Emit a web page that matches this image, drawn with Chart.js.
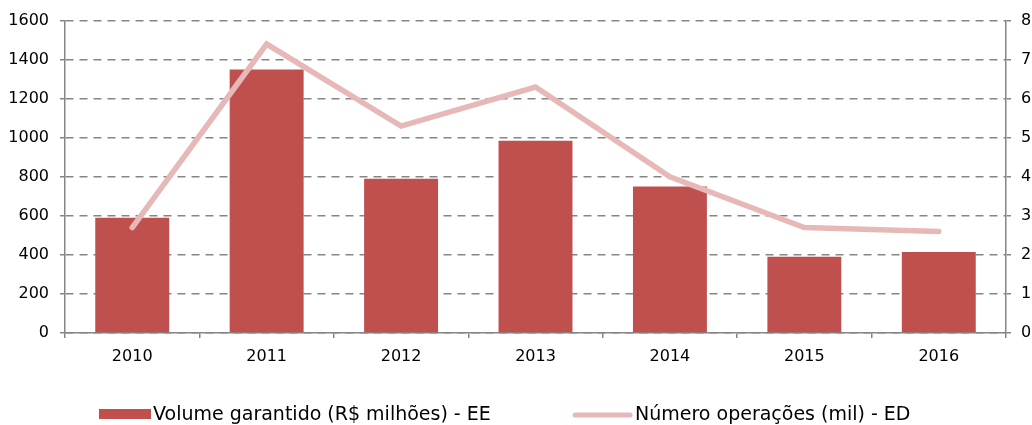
<!DOCTYPE html>
<html>
<head>
<meta charset="utf-8">
<script src="https://cdn.jsdelivr.net/npm/chart.js@4.4.1/dist/chart.umd.min.js"></script>
<style>
  html, body { margin: 0; padding: 0; background: #ffffff; }
  #wrap { width: 1032px; height: 425px; position: relative; }
</style>
</head>
<body>
<div id="wrap"><canvas id="c"></canvas></div>
<script>
const categories = ['2010', '2011', '2012', '2013', '2014', '2015', '2016'];
const volumeValues = [590, 1350, 790, 985, 750, 390, 415];
const operationsValues = [2.7, 7.4, 5.3, 6.3, 4.0, 2.7, 2.6];
const volumeLabel = 'Volume garantido (R$ milhões) - EE';
const operationsLabel = 'Número operações (mil) - ED';
const leftTicks = [0, 200, 400, 600, 800, 1000, 1200, 1400, 1600];
const rightTicks = [0, 1, 2, 3, 4, 5, 6, 7, 8];

const FONT = "'DejaVu Sans', sans-serif";
const AXIS = '#868686';
Chart.defaults.font.family = FONT;
Chart.defaults.color = '#000000';

const customLegend = {
  id: 'customLegend',
  afterDraw(chart) {
    const ctx = chart.ctx;
    const ds = chart.data.datasets;
    const barDs = ds.find(d => d.type === 'bar');
    const lineDs = ds.find(d => d.type === 'line');
    const y = 415;
    ctx.save();
    ctx.font = '19px ' + FONT;
    ctx.textBaseline = 'middle';
    ctx.textAlign = 'left';
    // bar item
    ctx.fillStyle = barDs.backgroundColor;
    ctx.fillRect(99, 409, 52, 10);
    ctx.fillStyle = '#000000';
    ctx.fillText(barDs.label, 153, y);
    // line item
    ctx.strokeStyle = lineDs.borderColor;
    ctx.lineWidth = 5;
    ctx.lineCap = 'round';
    ctx.beginPath();
    ctx.moveTo(575, y);
    ctx.lineTo(630, y);
    ctx.stroke();
    ctx.fillStyle = '#000000';
    ctx.fillText(lineDs.label, 635, y);
    ctx.restore();
  }
};

const plainTick = function (value) { return String(value); };

new Chart(document.getElementById('c'), {
  data: {
    labels: categories,
    datasets: [
      {
        type: 'line',
        label: operationsLabel,
        data: operationsValues,
        yAxisID: 'yRight',
        borderColor: '#e6b9b8',
        backgroundColor: '#e6b9b8',
        borderWidth: 5.5,
        borderCapStyle: 'round',
        borderJoinStyle: 'miter',
        pointRadius: 0,
        pointHoverRadius: 0,
        tension: 0,
        order: 0
      },
      {
        type: 'bar',
        label: volumeLabel,
        data: volumeValues,
        yAxisID: 'yLeft',
        backgroundColor: '#c0504d',
        borderWidth: 0,
        barPercentage: 0.55,
        categoryPercentage: 1.0,
        order: 1
      }
    ]
  },
  options: {
    responsive: true,
    maintainAspectRatio: false,
    animation: false,
    events: [],
    layout: { padding: { top: 19, left: 0, right: 0, bottom: 0 } },
    plugins: {
      legend: { display: false },
      tooltip: { enabled: false }
    },
    scales: {
      x: {
        type: 'category',
        offset: true,
        grid: {
          offset: true,
          drawOnChartArea: false,
          drawTicks: true,
          tickLength: 5,
          color: AXIS,
          lineWidth: 1.5
        },
        border: { display: true, color: AXIS, width: 1.5 },
        ticks: { padding: 9, font: { size: 16 }, color: '#000000', maxRotation: 0 },
        afterFit(scale) { scale.height = 92; }
      },
      yLeft: {
        type: 'linear',
        position: 'left',
        min: 0,
        max: 1600,
        afterBuildTicks(scale) { scale.ticks = leftTicks.map(v => ({ value: v })); },
        grid: {
          drawOnChartArea: true,
          drawTicks: true,
          tickLength: 5,
          color: AXIS,
          lineWidth: 1.5,
          tickBorderDash: [],
          tickColor: AXIS,
          tickWidth: 1.5
        },
        border: { display: true, color: AXIS, width: 1.5, dash: [8, 6] },
        ticks: { padding: 11, font: { size: 16 }, color: '#000000', callback: plainTick },
        afterFit(scale) { scale.width = 65; }
      },
      yRight: {
        type: 'linear',
        position: 'right',
        min: 0,
        max: 8,
        afterBuildTicks(scale) { scale.ticks = rightTicks.map(v => ({ value: v })); },
        grid: {
          drawOnChartArea: false,
          drawTicks: true,
          tickLength: 5,
          color: AXIS,
          lineWidth: 1.5
        },
        border: { display: true, color: AXIS, width: 1.5 },
        ticks: { padding: 10, font: { size: 16 }, color: '#000000', callback: plainTick },
        afterFit(scale) { scale.width = 26; }
      }
    }
  },
  plugins: [customLegend]
});
</script>
</body>
</html>
